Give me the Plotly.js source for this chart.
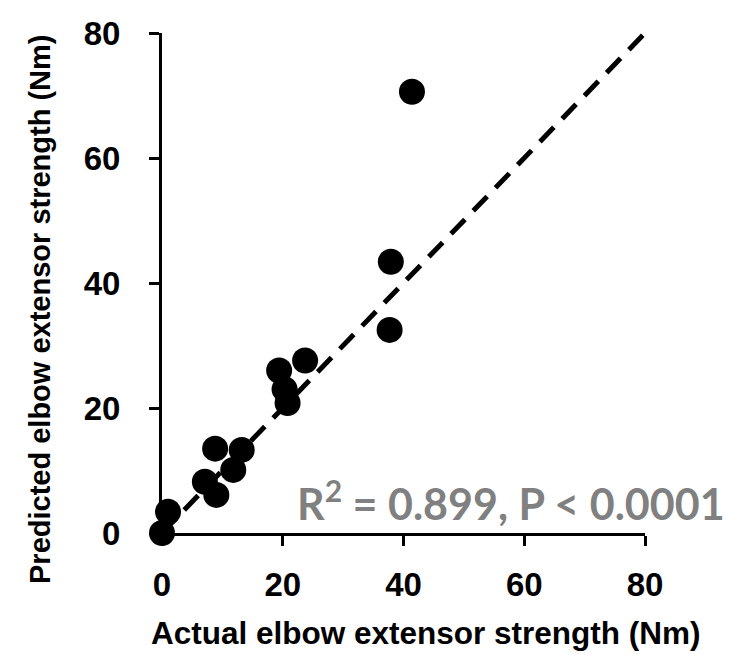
<!DOCTYPE html>
<html>
<head>
<meta charset="utf-8">
<script src="https://cdn.plot.ly/plotly-3.0.1.min.js"></script>
<style>
  html, body { margin: 0; padding: 0; background: #ffffff; }
  #chart { width: 737px; height: 660px; }
</style>
</head>
<body>
<div id="chart"></div>
<script>
// Actual vs predicted elbow extensor strength (Nm), one point per subject
const actualStrength = [0, 1.0, 7.1, 9.0, 8.8, 13.2, 11.8, 19.4, 20.3, 20.8, 23.7, 37.7, 37.9, 41.4];
const predictedStrength = [0, 3.4, 8.2, 6.1, 13.5, 13.3, 10.1, 26.0, 23.0, 20.8, 27.6, 32.5, 43.4, 70.6];

// Line of agreement
const lineX = [0, 80];
const lineY = [0, 80];

const tickVals = [0, 20, 40, 60, 80];
const tickText = ['0', '20', '40', '60', '80'];

const xTitle = 'Actual elbow extensor strength (Nm)';
const yTitle = 'Predicted elbow extensor strength (Nm)';
const statsText = 'R<sup>2</sup> = 0.899, P < 0.0001';

const tickFont = { family: 'Liberation Sans, Arial, sans-serif', size: 33, color: '#000000', weight: 'bold' };
const titleFont = { family: 'Liberation Sans, Arial, sans-serif', size: 31.5, color: '#000000', weight: 'bold' };

const traces = [
  {
    x: lineX, y: lineY,
    type: 'scatter', mode: 'lines',
    line: { color: '#000000', width: 5, dash: '20px,12px' },
    hoverinfo: 'skip', cliponaxis: false
  },
  {
    x: actualStrength, y: predictedStrength,
    type: 'scatter', mode: 'markers',
    marker: { color: '#000000', size: 26, line: { width: 0 } },
    cliponaxis: false
  }
];

const axisCommon = {
  range: [0, 80],
  tickmode: 'array',
  tickvals: tickVals,
  ticktext: tickText,
  ticks: 'outside',
  ticklen: 10,
  tickwidth: 3,
  tickcolor: '#000000',
  showline: true,
  linecolor: '#000000',
  linewidth: 3,
  showgrid: false,
  zeroline: false,
  tickfont: tickFont,
  fixedrange: true
};

const layout = {
  width: 737,
  height: 660,
  margin: { l: 162, r: 92, t: 33, b: 127 },
  paper_bgcolor: '#ffffff',
  plot_bgcolor: '#ffffff',
  showlegend: false,
  xaxis: Object.assign({}, axisCommon, { ticklabelstandoff: 10 }),
  yaxis: Object.assign({}, axisCommon, { ticklabelstandoff: 22 }),
  annotations: [
    {
      // x-axis title
      text: xTitle,
      x: 426, y: 633, xref: 'paper', yref: 'paper',
      xanchor: 'center', yanchor: 'middle', showarrow: false,
      font: titleFont
    },
    {
      // y-axis title
      text: yTitle,
      x: 40, y: 309, xref: 'paper', yref: 'paper',
      textangle: -90,
      xanchor: 'center', yanchor: 'middle', showarrow: false,
      font: Object.assign({}, titleFont, { size: 29 })
    },
    {
      text: statsText,
      x: 1.17, y: 0.065,
      xref: 'paper', yref: 'paper',
      xanchor: 'right', yanchor: 'middle',
      showarrow: false,
      font: { family: 'Lato, Open Sans, sans-serif', size: 43, color: '#808080', weight: 'bold' }
    }
  ]
};

// Title annotations are placed in pixels: convert to paper fractions of the plot area
const plotW = layout.width - layout.margin.l - layout.margin.r;
const plotH = layout.height - layout.margin.t - layout.margin.b;
[0, 1].forEach(function (i) {
  const a = layout.annotations[i];
  a.x = (a.x - layout.margin.l) / plotW;
  a.y = (layout.height - layout.margin.b - a.y) / plotH;
});

Plotly.newPlot('chart', traces, layout, { displayModeBar: false, staticPlot: true });
</script>
</body>
</html>
